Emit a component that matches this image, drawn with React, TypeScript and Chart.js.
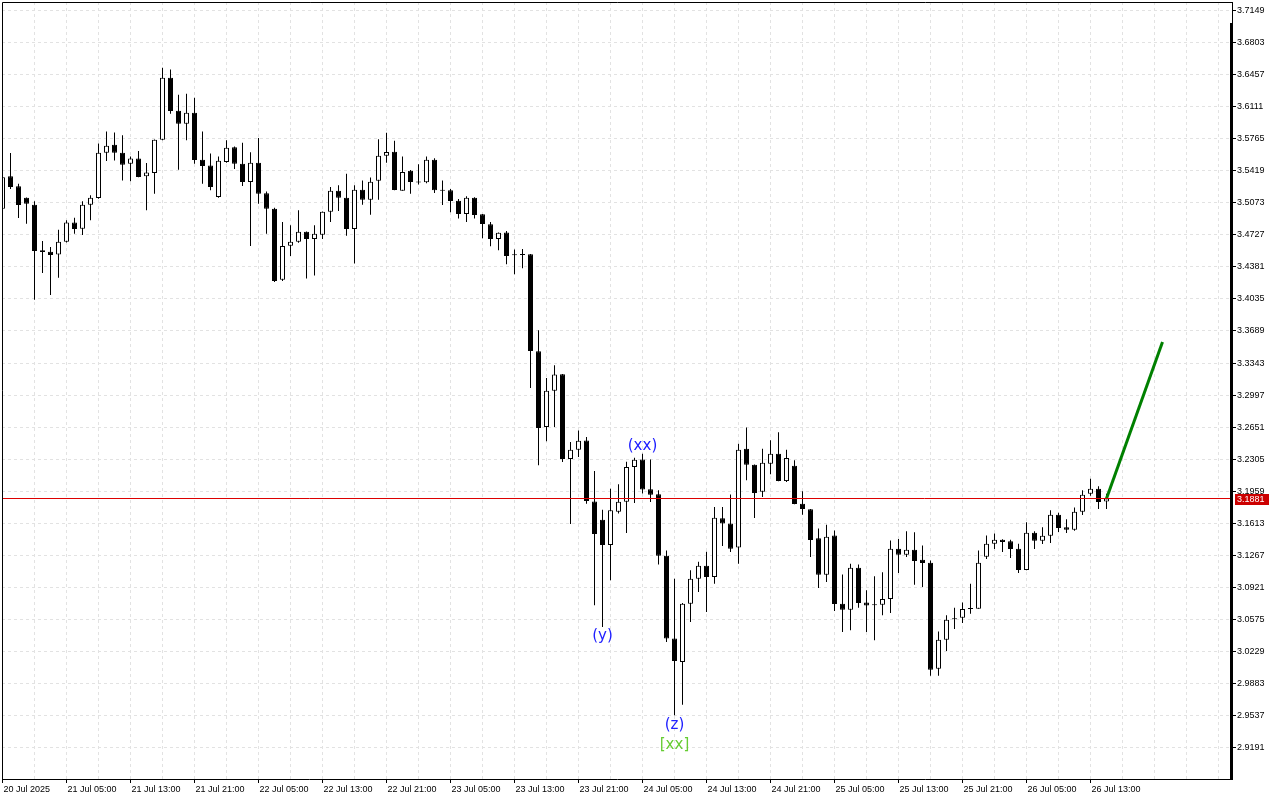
import React, { useEffect, useRef } from 'react';
import { Chart, registerables } from 'chart.js';

Chart.register(...registerables);

// ---- Data (H1 candles, 20 Jul 21:00 .. 26 Jul 15:00) ----
const opens = [
  3.5009, 3.5358, 3.5250, 3.5128, 3.5052, 3.4559, 3.4545, 3.4513, 3.4653, 3.4861,
  3.4793, 3.5052, 3.5123, 3.5613, 3.5700, 3.5613, 3.5495, 3.5549, 3.5358, 3.5393,
  3.5754, 3.6423, 3.6067, 3.5926, 3.6045, 3.5538, 3.5476, 3.5134, 3.5512, 3.5671,
  3.5495, 3.5296, 3.5505, 3.5174, 3.5009, 3.4243, 3.4610, 3.4653, 3.4761, 3.4681,
  3.4728, 3.4977, 3.5203, 3.5128, 3.4789, 3.5214, 3.5106, 3.5311, 3.5581, 3.5624,
  3.5203, 3.5419, 3.5296, 3.5293, 3.5538, 3.5207, 3.5207, 3.5095, 3.4951, 3.5128,
  3.4948, 3.4840, 3.4681, 3.4753, 3.4513, 3.4508, 3.4516, 3.3469, 3.2652, 3.3045,
  3.3221, 3.2307, 3.2408, 3.2508, 3.1850, 3.1653, 3.1379, 3.1739, 3.1847, 3.2220,
  3.2303, 3.1980, 3.1926, 3.1264, 3.0369, 3.0116, 3.0746, 3.1016, 3.1156, 3.1033,
  3.1667, 3.1610, 3.1351, 3.2419, 3.2246, 3.1955, 3.2257, 3.2365, 3.2069, 3.2235,
  3.1825, 3.1764, 3.1451, 3.1059, 3.1483, 3.0746, 3.0681, 3.1135, 3.0760, 3.0735,
  3.0735, 3.0796, 3.1340, 3.1275, 3.1329, 3.1221, 3.1189, 3.0045, 3.0358, 3.0584,
  3.0595, 3.0688, 3.0692, 3.1253, 3.1394, 3.1437, 3.1419, 3.1340, 3.1109, 3.1512,
  3.1426, 3.1480, 3.1707, 3.1570, 3.1545, 3.1739, 3.1933, 3.1987, 3.1850,
];

const highs = [
  3.5368, 3.5609, 3.5279, 3.5130, 3.5088, 3.4659, 3.4595, 3.4782, 3.4883, 3.4912,
  3.5088, 3.5153, 3.5711, 3.5843, 3.5832, 3.5800, 3.5573, 3.5631, 3.5501, 3.5756,
  3.6531, 3.6512, 3.6239, 3.6250, 3.6207, 3.5843, 3.5603, 3.5573, 3.5746, 3.5681,
  3.5721, 3.5617, 3.5771, 3.5193, 3.5020, 3.4864, 3.4829, 3.4991, 3.4763, 3.4829,
  3.4979, 3.5242, 3.5261, 3.5387, 3.5261, 3.5314, 3.5344, 3.5757, 3.5829, 3.5743,
  3.5573, 3.5426, 3.5487, 3.5573, 3.5552, 3.5314, 3.5221, 3.5113, 3.5142, 3.5131,
  3.4951, 3.4864, 3.4753, 3.4767, 3.4567, 3.4573, 3.4521, 3.3696, 3.3181, 3.3318,
  3.3226, 3.2490, 3.2616, 3.2544, 3.2177, 3.1761, 3.1987, 3.2034, 3.2279, 3.2322,
  3.2365, 3.2303, 3.1969, 3.1321, 3.1016, 3.0752, 3.1106, 3.1199, 3.1307, 3.1789,
  3.1789, 3.1923, 3.2473, 3.2646, 3.2249, 3.2419, 3.2509, 3.2595, 3.2408, 3.2293,
  3.1958, 3.1767, 3.1556, 3.1599, 3.1537, 3.1062, 3.1178, 3.1170, 3.0890, 3.1041,
  3.1084, 3.1429, 3.1443, 3.1527, 3.1516, 3.1375, 3.1213, 3.0447, 3.0620, 3.0703,
  3.0760, 3.0962, 3.1321, 3.1483, 3.1502, 3.1440, 3.1437, 3.1394, 3.1624, 3.1527,
  3.1570, 3.1753, 3.1728, 3.1656, 3.1785, 3.1969, 3.2095, 3.2012, 3.1933,
];

const lows = [
  3.4991, 3.5221, 3.4908, 3.4847, 3.4027, 3.4314, 3.4077, 3.4264, 3.4645, 3.4739,
  3.4724, 3.4883, 3.5117, 3.5523, 3.5530, 3.5314, 3.5304, 3.5347, 3.4991, 3.5171,
  3.5746, 3.6034, 3.5430, 3.5746, 3.5495, 3.5279, 3.5207, 3.5128, 3.5505, 3.5436,
  3.5253, 3.4605, 3.5063, 3.4739, 3.4217, 3.4228, 3.4498, 3.4642, 3.4254, 3.4289,
  3.4681, 3.4864, 3.4983, 3.4718, 3.4416, 3.5052, 3.4944, 3.5106, 3.5505, 3.5208,
  3.5201, 3.5171, 3.5271, 3.5282, 3.5177, 3.5048, 3.4969, 3.4904, 3.4864, 3.4904,
  3.4689, 3.4602, 3.4559, 3.4408, 3.4300, 3.4365, 3.3073, 3.2239, 3.2498, 3.2652,
  3.2274, 3.1605, 3.2328, 3.1825, 3.0728, 3.0494, 3.0998, 3.1718, 3.1508, 3.1832,
  3.1934, 3.1843, 3.1170, 3.0332, 2.9541, 2.9656, 3.0548, 3.0871, 3.0656, 3.0962,
  3.1368, 3.1303, 3.1178, 3.2077, 3.1670, 3.1897, 3.2142, 3.2066, 3.2058, 3.1818,
  3.1707, 3.1249, 3.0915, 3.0979, 3.0666, 3.0440, 3.0458, 3.0703, 3.0440, 3.0350,
  3.0620, 3.0645, 3.1076, 3.1249, 3.0951, 3.0925, 2.9969, 2.9969, 3.0235, 3.0472,
  3.0537, 3.0638, 3.0690, 3.1228, 3.1335, 3.1303, 3.1238, 3.1076, 3.1106, 3.1335,
  3.1389, 3.1400, 3.1519, 3.1508, 3.1534, 3.1702, 3.1912, 3.1767, 3.1767,
];

const closes = [
  3.5347, 3.5242, 3.5048, 3.5063, 3.4551, 3.4541, 3.4508, 3.4653, 3.4861, 3.4789,
  3.5052, 3.5128, 3.5613, 3.5689, 3.5613, 3.5484, 3.5549, 3.5350, 3.5398, 3.5754,
  3.6423, 3.6062, 3.5926, 3.6045, 3.5534, 3.5469, 3.5242, 3.5527, 3.5667, 3.5495,
  3.5296, 3.5505, 3.5171, 3.5009, 3.4228, 3.4605, 3.4653, 3.4761, 3.4681, 3.4739,
  3.4977, 3.5203, 3.5128, 3.4789, 3.5214, 3.5106, 3.5300, 3.5581, 3.5620, 3.5210,
  3.5404, 3.5296, 3.5290, 3.5538, 3.5207, 3.5203, 3.5091, 3.4951, 3.5128, 3.4940,
  3.4843, 3.4681, 3.4750, 3.4498, 3.4505, 3.4513, 3.3472, 3.2641, 3.3045, 3.3218,
  3.2307, 3.2408, 3.2505, 3.1853, 3.1497, 3.1379, 3.1753, 3.1847, 3.2220, 3.2300,
  3.1977, 3.1922, 3.1264, 3.0369, 3.0127, 3.0746, 3.1016, 3.1156, 3.1033, 3.1674,
  3.1610, 3.1340, 3.2408, 3.2246, 3.1940, 3.2268, 3.2365, 3.2069, 3.2317, 3.1821,
  3.1767, 3.1433, 3.1059, 3.1469, 3.0742, 3.0681, 3.1135, 3.0753, 3.0725, 3.0728,
  3.0796, 3.1340, 3.1275, 3.1329, 3.1206, 3.1184, 3.0034, 3.0358, 3.0573, 3.0577,
  3.0688, 3.0692, 3.1189, 3.1394, 3.1437, 3.1411, 3.1335, 3.1109, 3.1512, 3.1426,
  3.1480, 3.1707, 3.1562, 3.1545, 3.1739, 3.1922, 3.1987, 3.1843, 3.1881,
];

const yTickLabels = [
  '3.7149', '3.6803', '3.6457', '3.6111', '3.5765', '3.5419', '3.5073', '3.4727',
  '3.4381', '3.4035', '3.3689', '3.3343', '3.2997', '3.2651', '3.2305', '3.1959',
  '3.1613', '3.1267', '3.0921', '3.0575', '3.0229', '2.9883', '2.9537', '2.9191',
];

const xTickLabels = [
  '20 Jul 2025', '21 Jul 05:00', '21 Jul 13:00', '21 Jul 21:00', '22 Jul 05:00',
  '22 Jul 13:00', '22 Jul 21:00', '23 Jul 05:00', '23 Jul 13:00', '23 Jul 21:00',
  '24 Jul 05:00', '24 Jul 13:00', '24 Jul 21:00', '25 Jul 05:00', '25 Jul 13:00',
  '25 Jul 21:00', '26 Jul 05:00', '26 Jul 13:00',
];

const currentPrice = 3.1881;
const currentPriceLabel = '3.1881';

const forecastBars = [138, 145];
const forecastPrices = [3.1881, 3.3569];

const waveLabels = ['(xx)', '(y)', '(z)', '[xx]'];
const waveBars = [80, 75, 84, 84];
const waveAnchors = ['high', 'low', 'low', 'low'];

// ---- view constants ----
const X_MIN = -0.0625;
const X_MAX = 153.6875;
const Y_MIN = 2.88539;
const Y_MAX = 3.72393;
const FONT = '"Liberation Sans", Arial, sans-serif';

export default function App() {
  const ref = useRef<HTMLCanvasElement | null>(null);

  useEffect(() => {
    document.body.style.margin = '0';
    const canvas = ref.current;
    if (!canvas) return;
    const ctx = canvas.getContext('2d');
    if (!ctx) return;

    const yTickValues = yTickLabels.map((s) => parseFloat(s));
    const gridBars: number[] = [];
    for (let v = 0; v <= 152; v += 4) gridBars.push(v);

    const bodies = opens.map((o, i) => ({ x: i, y: [o, closes[i]] }));
    const wicks = highs.map((h, i) => ({ x: i, y: [lows[i], h] }));
    const bidLine = [
      { x: X_MIN, y: currentPrice },
      { x: X_MAX, y: currentPrice },
    ];
    const forecast = forecastBars.map((b, i) => ({ x: b, y: forecastPrices[i] }));

    const isLabeled = (v: number) => v % 8 === 0 && v / 8 < xTickLabels.length;

    const decor = {
      id: 'decor',
      afterDatasetsDraw(chart: any) {
        const { ctx: c, scales } = chart;
        const xs = scales.x;
        const ys = scales.y;
        c.save();
        c.font = '15px "DejaVu Sans", sans-serif';
        c.textAlign = 'center';
        c.textBaseline = 'middle';
        waveLabels.forEach((t, k) => {
          const b = waveBars[k];
          const px = xs.getPixelForValue(b);
          let py: number;
          if (waveAnchors[k] === 'high') {
            py = ys.getPixelForValue(highs[b]) - 8;
          } else {
            py = ys.getPixelForValue(lows[b]) + (t === '[xx]' ? 30 : 9.5);
          }
          c.fillStyle = t === '[xx]' ? '#66cc33' : '#2020ff';
          c.fillText(t, px, py);
        });
        c.restore();
      },
      afterDraw(chart: any) {
        const { ctx: c, chartArea: a, scales } = chart;
        const ys = scales.y;
        c.save();
        c.strokeStyle = '#000';
        c.lineWidth = 1;
        c.beginPath();
        c.moveTo(a.left + 0.5, a.bottom);
        c.lineTo(a.left + 0.5, a.top + 0.5);
        c.lineTo(a.right + 1, a.top + 0.5);
        c.stroke();
        c.fillStyle = '#000';
        c.fillRect(a.right - 2, a.top + 21, 3, a.bottom - a.top - 20);
        const py = ys.getPixelForValue(currentPrice);
        c.fillStyle = '#cc0000';
        c.fillRect(a.right + 3, Math.round(py) - 5, 34, 11);
        c.fillStyle = '#ffffff';
        c.font = '9px ' + FONT;
        c.textAlign = 'left';
        c.textBaseline = 'middle';
        c.fillText(currentPriceLabel, a.right + 5, Math.round(py) + 0.5);
        c.restore();
      },
    };

    const chart = new Chart(ctx, {
      type: 'bar',
      data: {
        datasets: [
          {
            type: 'line',
            data: bidLine as any,
            borderColor: '#dd0000',
            borderWidth: 1,
            pointRadius: 0,
            order: 0,
          } as any,
          {
            type: 'line',
            data: forecast as any,
            borderColor: '#008000',
            borderWidth: 3,
            pointRadius: 0,
            order: 0,
          } as any,
          {
            type: 'bar',
            data: bodies as any,
            backgroundColor: bodies.map((d) => (d.y[1] >= d.y[0] ? '#ffffff' : '#000000')),
            borderColor: '#000000',
            borderWidth: 1,
            borderSkipped: false,
            barThickness: 5,
            minBarLength: 1,
            grouped: false,
            inflateAmount: 0,
            order: 1,
          } as any,
          {
            type: 'bar',
            data: wicks as any,
            backgroundColor: '#000000',
            borderWidth: 0,
            barThickness: 1,
            grouped: false,
            inflateAmount: 0,
            order: 2,
          } as any,
        ],
      },
      options: {
        responsive: false,
        animation: false,
        devicePixelRatio: 1,
        events: [],
        layout: { autoPadding: false, padding: { left: 2, top: 2, right: 0, bottom: 0 } },
        plugins: {
          legend: { display: false },
          tooltip: { enabled: false },
        },
        scales: {
          x: {
            type: 'linear',
            min: X_MIN,
            max: X_MAX,
            offset: false,
            afterBuildTicks: (s: any) => {
              s.ticks = gridBars.map((v) => ({ value: v }));
            },
            afterFit: (s: any) => {
              s.height = 21;
              s.paddingLeft = 0;
              s.paddingRight = 0;
              s.paddingTop = 0;
              s.paddingBottom = 0;
            },
            grid: {
              offset: false,
              color: '#e2e2e2',
              lineWidth: 1,
              drawTicks: true,
              tickLength: 4,
              tickWidth: 1,
              tickBorderDash: [],
              tickColor: (c: any) => (c.tick && isLabeled(c.tick.value) ? '#000000' : 'rgba(0,0,0,0)'),
            },
            border: { display: true, color: '#000000', width: 1, dash: [3, 3] },
            ticks: {
              autoSkip: false,
              maxRotation: 0,
              minRotation: 0,
              align: 'start',
              padding: 1,
              labelOffset: 1,
              color: '#000000',
              font: { family: FONT, size: 9 },
              callback: (v: any) => (isLabeled(Number(v)) ? xTickLabels[Number(v) / 8] : ''),
            },
          } as any,
          y: {
            type: 'linear',
            position: 'right',
            min: Y_MIN,
            max: Y_MAX,
            beginAtZero: false,
            afterBuildTicks: (s: any) => {
              s.ticks = yTickValues.map((v) => ({ value: v }));
            },
            afterFit: (s: any) => {
              s.width = 48;
              s.paddingLeft = 0;
              s.paddingRight = 0;
              s.paddingTop = 0;
              s.paddingBottom = 0;
            },
            grid: {
              color: '#e2e2e2',
              lineWidth: 1,
              drawTicks: true,
              tickLength: 4,
              tickWidth: 1,
              tickColor: '#000000',
              tickBorderDash: [],
            },
            border: { display: true, color: '#000000', width: 1, dash: [3, 3] },
            ticks: {
              autoSkip: false,
              padding: 1,
              color: '#000000',
              font: { family: FONT, size: 9 },
              callback: (v: any) => {
                const k = yTickValues.indexOf(Number(v));
                return k >= 0 ? yTickLabels[k] : '';
              },
            },
          } as any,
        },
      },
      plugins: [decor as any],
    });

    return () => chart.destroy();
  }, []);

  return (
    <div style={{ width: 1280, height: 800, background: '#ffffff' }}>
      <canvas ref={ref} width={1280} height={800} style={{ display: 'block' }} />
    </div>
  );
}
